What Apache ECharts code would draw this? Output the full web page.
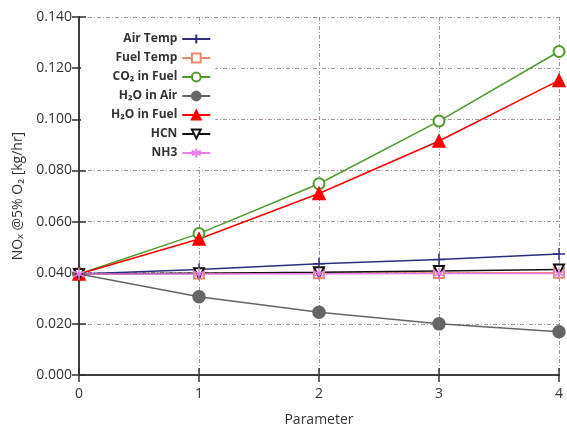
<!DOCTYPE html>
<html><head><meta charset="utf-8">
<script src="https://cdn.jsdelivr.net/npm/echarts@6/dist/echarts.min.js"></script>
<style>html,body{margin:0;padding:0;background:#fff}#c{width:567px;height:430px}</style>
</head><body><div id="c"></div>
<script>
const xValues = [0, 1, 2, 3, 4];
const seriesNames = ['Air Temp', 'Fuel Temp', 'CO₂ in Fuel', 'H₂O in Air', 'H₂O in Fuel', 'HCN', 'NH3'];
const airTemp   = [0.0395, 0.0413, 0.0435, 0.0452, 0.0473];
const fuelTemp  = [0.0395, 0.0397, 0.0398, 0.0399, 0.0400];
const co2Fuel   = [0.0395, 0.0553, 0.0748, 0.0993, 0.1265];
const h2oAir    = [0.0395, 0.0306, 0.0245, 0.0200, 0.0169];
const h2oFuel   = [0.0395, 0.0532, 0.0710, 0.0915, 0.1152];
const hcn       = [0.0395, 0.0398, 0.0402, 0.0407, 0.0413];
const nh3       = [0.0395, 0.0395, 0.0396, 0.0397, 0.0397];
const yTicks = ['0.000','0.020','0.040','0.060','0.080','0.100','0.120','0.140'];

const pair = arr => xValues.map((x, i) => [x, arr[i]]);
const FONT = '"Open Sans", "Liberation Sans", sans-serif';
const plusPath = 'path://M5,0L5,10M0,5L10,5';
const starPath = 'path://M5,0L5,10M0.7,2.5L9.3,7.5M0.7,7.5L9.3,2.5';

function mk(name, data, color, symbol, size, opts) {
  return Object.assign({
    name: name, type: 'line', data: pair(data),
    symbol: symbol, symbolSize: size,
    lineStyle: { color: color, width: 1.5 },
    itemStyle: { color: color, borderColor: color, borderWidth: 1.5 },
    emphasis: { disabled: true }, animation: false
  }, opts || {});
}

const chart = echarts.init(document.getElementById('c'), null, { renderer: 'canvas' });
const gridLine = { show: true, lineStyle: { color: '#a49492', type: [4, 2, 1, 2], width: 1 } };
chart.setOption({
  backgroundColor: '#fff',
  grid: { left: 79, right: 8, top: 17, bottom: 55, containLabel: false, outerBoundsMode: 'none' },
  legend: {
    orient: 'vertical', left: 81, top: 25, align: 'right',
    padding: [8, 4, 8, 30],
    itemWidth: 28, itemHeight: 11, itemGap: 7,
    data: seriesNames,
    textStyle: { fontFamily: FONT, fontSize: 12, fontWeight: 'bold', color: '#333', width: 95, align: 'right' },
    backgroundColor: '#fff'
  },
  xAxis: [{
    type: 'value', min: 0, max: 4, interval: 1,
    axisLine: { show: true, onZero: false, lineStyle: { color: '#333', width: 1.5 } },
    axisTick: { show: true, inside: true, length: 7, lineStyle: { color: '#333', width: 1.5 } },
    axisLabel: { fontFamily: FONT, fontSize: 14, color: '#333', margin: 12, formatter: v => String(xValues[v]) },
    splitLine: gridLine,
    name: 'Parameter', nameLocation: 'middle', nameGap: 38,
    nameTextStyle: { fontFamily: FONT, fontSize: 14, color: '#333' }
  }, {
    type: 'value', min: 0, max: 4, interval: 1, position: 'top',
    axisLine: { show: true, lineStyle: { color: '#333', width: 1.5 } },
    axisTick: { show: true, inside: true, length: 7, lineStyle: { color: '#333', width: 1.5 } },
    axisLabel: { show: false }, splitLine: { show: false }
  }],
  yAxis: [{
    type: 'value', min: 0, max: 0.14, interval: 0.02,
    axisLine: { show: true, lineStyle: { color: '#333', width: 1.5 } },
    axisTick: { show: true, inside: true, length: 7, lineStyle: { color: '#333', width: 1.5 } },
    axisLabel: { fontFamily: FONT, fontSize: 14, color: '#333', margin: 7, formatter: (v) => yTicks[Math.round(v / 0.02)] },
    splitLine: gridLine,
    name: 'NOₓ @5% O₂ [kg/hr]', nameLocation: 'middle', nameGap: 52, nameRotate: 90,
    nameTextStyle: { fontFamily: FONT, fontSize: 14, color: '#333' }
  }, {
    type: 'value', min: 0, max: 0.14, interval: 0.02, position: 'right',
    axisLine: { show: true, lineStyle: { color: '#333', width: 1.5 } },
    axisTick: { show: true, inside: true, length: 7, lineStyle: { color: '#333', width: 1.5 } },
    axisLabel: { show: false }, splitLine: { show: false }
  }],
  series: [
    mk(seriesNames[0], airTemp, '#2e2e80', plusPath, 12),
    mk(seriesNames[1], fuelTemp, '#e8896a', 'emptyRect', 10),
    mk(seriesNames[2], co2Fuel, '#4f9a2f', 'emptyCircle', 11),
    mk(seriesNames[3], h2oAir, '#666666', 'circle', 12),
    mk(seriesNames[4], h2oFuel, '#ff0000', 'triangle', 12),
    mk(seriesNames[5], hcn, '#111111', 'emptyTriangle', 10, { symbolRotate: 180 }),
    mk(seriesNames[6], nh3, '#e97ee9', starPath, 12)
  ]
});
</script></body></html>
